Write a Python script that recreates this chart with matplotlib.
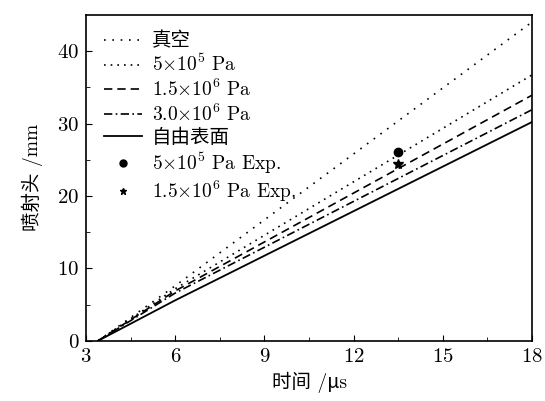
import numpy as np
import matplotlib
matplotlib.use("Agg")
import matplotlib.pyplot as plt

plt.rcParams['font.family'] = ['cmr10', 'Noto Sans CJK SC']
plt.rcParams['mathtext.fontset'] = 'cm'
plt.rcParams['axes.formatter.use_mathtext'] = True

# ===== data =====
t = [3.4, 6.0, 18.0]
vacuum = [0.0, 7.6, 44.0]
p5e5 = [0.0, 7.2, 36.7]
p15e6 = [0.0, 6.9, 33.9]
p30e6 = [0.0, 6.6, 31.9]
free_surface = [0.0, 5.6, 30.2]

exp_t = [13.5]
exp_5e5 = [26.1]
exp_15e6 = [24.4]

fig = plt.figure(figsize=(5.45, 4.01), dpi=100)
ax = fig.add_axes([0.158, 0.150, 0.818, 0.813])

ax.plot(t, vacuum, color='k', lw=1.2, linestyle=(0, (1, 4)), label='真空')
ax.plot(t, p5e5, color='k', lw=1.2, linestyle=(0, (1, 3)), label=r'5$\times$10$^5$ Pa')
ax.plot(t, p15e6, color='k', lw=1.2, linestyle=(0, (5, 3)), label=r'1.5$\times$10$^6$ Pa')
ax.plot(t, p30e6, color='k', lw=1.2, linestyle=(0, (5, 2, 1, 2)), label=r'3.0$\times$10$^6$ Pa')
ax.plot(t, free_surface, color='k', lw=1.3, linestyle='-', label='自由表面')
ax.plot(exp_t, exp_5e5, 'o', color='k', ms=6, label=r'5$\times$10$^5$ Pa Exp.')
ax.plot(exp_t, exp_15e6, '*', color='k', ms=7, label=r'1.5$\times$10$^6$ Pa Exp.')

ax.set_xlim(3, 18)
ax.set_ylim(0, 45)
ax.set_xticks([3, 6, 9, 12, 15, 18])
ax.set_xticks([4.5, 7.5, 10.5, 13.5, 16.5], minor=True)
ax.set_yticks([0, 10, 20, 30, 40])
ax.set_yticks([5, 15, 25, 35], minor=True)
ax.tick_params(direction='in', which='both', labelsize=15, length=4, pad=5)
ax.tick_params(which='minor', length=3)
for s in ax.spines.values():
    s.set_linewidth(1.2)

ax.set_xlabel('时间 /μs', fontsize=14)
ax.set_ylabel('喷射头 /mm', fontsize=14, labelpad=10)

leg = ax.legend(loc='upper left', frameon=False, fontsize=14, handlelength=2.0,
                handletextpad=0.5, labelspacing=0.18, borderaxespad=0.5)
for h in leg.legend_handles[5:]:
    h.set_markersize(5)

fig.savefig('out.png', dpi=100)
